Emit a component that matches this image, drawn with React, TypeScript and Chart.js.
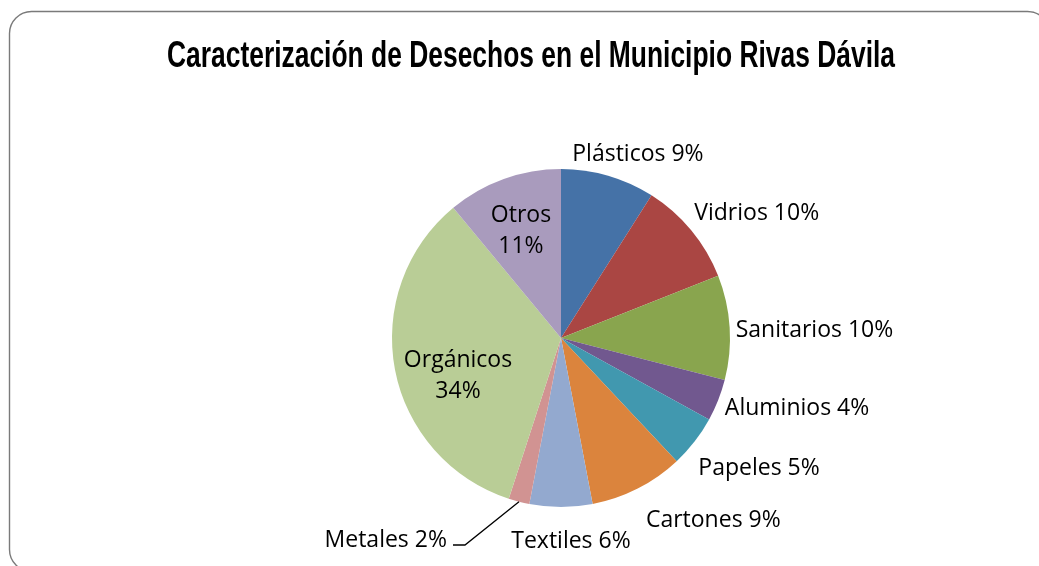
import React, { useEffect, useRef } from "react";
import { Chart, registerables } from "chart.js";

Chart.register(...registerables);

const TITLE = "Caracterización de Desechos en el Municipio Rivas Dávila";
const CATEGORIES = [
  "Plásticos",
  "Vidrios",
  "Sanitarios",
  "Aluminios",
  "Papeles",
  "Cartones",
  "Textiles",
  "Metales",
  "Orgánicos",
  "Otros",
];
const VALUES = [9, 10, 10, 4, 5, 9, 6, 2, 34, 11];
const COLORS = [
  "#4572A7",
  "#AA4643",
  "#89A54E",
  "#71588F",
  "#4198AF",
  "#DB843D",
  "#93A9CF",
  "#D19392",
  "#B9CD96",
  "#A99BBD",
];

// Label placement (offset of the label centre from the arc's outer mid point;
// inside labels are offset from the point at 60% of the radius)
const LABEL_INSIDE = [false, false, false, false, false, false, false, false, true, true];
const LABEL_OFFSETS: [number, number][] = [
  [29.8, -22.7],
  [65.5, -18.6],
  [84.8, 1.6],
  [78.9, 6.5],
  [64.5, 25.4],
  [75.6, 30.1],
  [10, 33],
  [-72, 37],
  [-3.4, 17.3],
  [-5.7, -13.3],
];
const LABEL_ALIGN = ["center", "center", "center", "center", "center", "center", "center", "right", "center", "center"];
const LEADER = [null, null, null, null, null, null, null, [[-54, 43.3], [-66, 43.3]], null, null];

const LABEL_FONT_SIZE = 23;
const LABEL_FONT = `${LABEL_FONT_SIZE}px 'Open Sans'`;

const framePlugin = {
  id: "frameTitle",
  beforeDraw(chart: any) {
    const ctx = chart.ctx;
    ctx.save();
    ctx.fillStyle = "#ffffff";
    ctx.fillRect(0, 0, chart.width, chart.height);
    ctx.restore();
  },
  afterDraw(chart: any) {
    const ctx = chart.ctx;
    ctx.save();
    // frame
    ctx.strokeStyle = "#7a7a7a";
    ctx.lineWidth = 1.4;
    ctx.beginPath();
    (ctx as any).roundRect(9.5, 11.5, 1040, 560, 22);
    ctx.stroke();
    // title
    ctx.fillStyle = "#000000";
    ctx.font = "bold 36px 'Liberation Sans', Arial, sans-serif";
    ctx.textAlign = "left";
    ctx.textBaseline = "alphabetic";
    const w = ctx.measureText(TITLE).width;
    const target = 728;
    const sx = target / w;
    ctx.translate(167, 67);
    ctx.scale(sx, 1);
    ctx.fillText(TITLE, 0, 0);
    ctx.restore();
  },
};

const labelPlugin = {
  id: "pieLabels",
  afterDatasetsDraw(chart: any) {
    const ctx = chart.ctx;
    const meta = chart.getDatasetMeta(0);
    ctx.save();
    ctx.font = LABEL_FONT;
    ctx.fillStyle = "#000000";
    ctx.textBaseline = "alphabetic";
    const capHalf = (LABEL_FONT_SIZE * 0.714) / 2;
    meta.data.forEach((arc: any, i: number) => {
      const p = arc.getProps(["x", "y", "startAngle", "endAngle", "outerRadius"], true);
      const mid = (p.startAngle + p.endAngle) / 2;
      const r = LABEL_INSIDE[i] ? p.outerRadius * 0.6 : p.outerRadius;
      const ax = p.x + Math.cos(mid) * r;
      const ay = p.y + Math.sin(mid) * r;
      const [ox, oy] = LABEL_OFFSETS[i];
      const cx = ax + ox;
      const cy = ay + oy;
      const lines = LABEL_INSIDE[i]
        ? [CATEGORIES[i], `${VALUES[i]}%`]
        : [`${CATEGORIES[i]} ${VALUES[i]}%`];
      const lh = 31.5;
      ctx.textAlign = LABEL_ALIGN[i] as CanvasTextAlign;
      lines.forEach((t, k) => {
        const y = cy + (k - (lines.length - 1) / 2) * lh + capHalf;
        ctx.fillText(t, cx, y);
      });
      const leader = LEADER[i] as any;
      if (leader) {
        ctx.strokeStyle = "#000000";
        ctx.lineWidth = 1.3;
        ctx.beginPath();
        ctx.moveTo(ax, ay);
        leader.forEach(([lx, ly]: [number, number]) => ctx.lineTo(ax + lx, ay + ly));
        ctx.stroke();
      }
    });
    ctx.restore();
  },
};

export default function App() {
  const ref = useRef<HTMLCanvasElement | null>(null);
  useEffect(() => {
    if (!ref.current) return;
    const chart = new Chart(ref.current, {
      type: "pie",
      data: {
        labels: CATEGORIES,
        datasets: [
          {
            data: VALUES,
            backgroundColor: COLORS,
            borderWidth: 0,
          },
        ],
      },
      options: {
        responsive: false,
        animation: false,
        devicePixelRatio: 1,
        layout: { padding: { left: 392, right: 309, top: 169, bottom: 59 } },
        plugins: {
          legend: { display: false },
          tooltip: { enabled: false },
          title: { display: false },
        },
      },
      plugins: [framePlugin, labelPlugin],
    });
    return () => chart.destroy();
  }, []);
  return (
    <div style={{ position: "fixed", left: 0, top: 0, width: 1039, height: 566, background: "#fff" }}>
      <canvas ref={ref} width={1039} height={566} style={{ display: "block" }} />
    </div>
  );
}
